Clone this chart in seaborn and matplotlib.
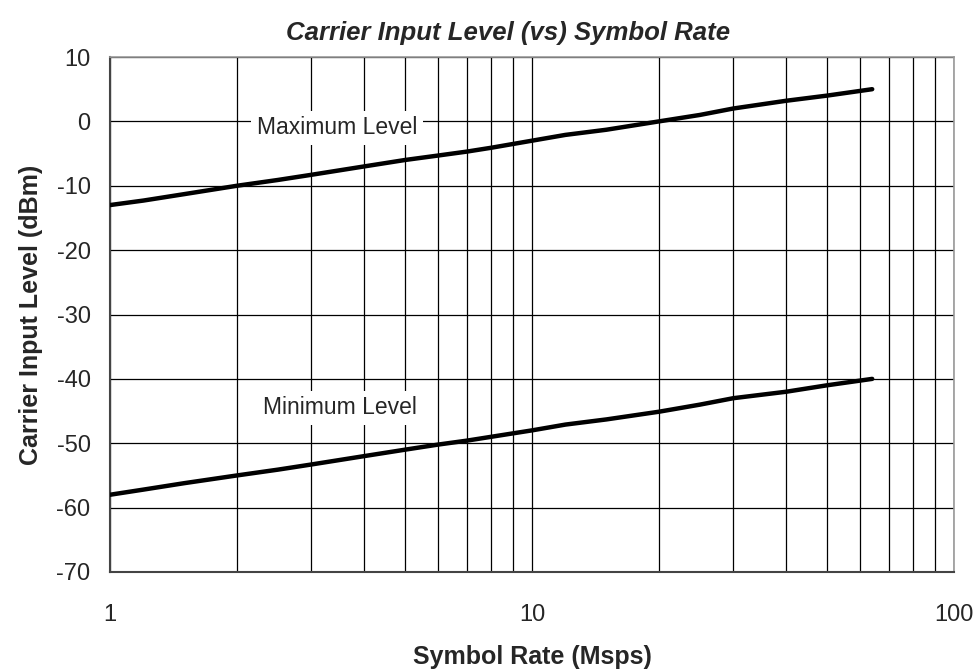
import numpy as np
import pandas as pd
import matplotlib
matplotlib.use('Agg')
import matplotlib.pyplot as plt
import matplotlib.ticker as mticker
import seaborn as sns

# symbol rate (Msps) and levels
rate = [1, 1.2, 1.5, 2, 2.5, 3, 4, 5, 6, 7, 8, 10, 12, 15, 20, 25, 30, 40, 50, 64]
max_level = [-13, -12.3, -11.3, -10, -9.1, -8.3, -7, -6, -5.3, -4.7, -4.1, -3, -2.1, -1.3, 0, 1, 2, 3.2, 4, 5]
min_level = [-58, -57.2, -56.2, -55, -54.1, -53.3, -52, -51, -50.2, -49.6, -49, -48, -47.1, -46.3, -45.1, -44, -43, -42, -41, -40]

df = pd.DataFrame({
    'rate': rate * 2,
    'level': max_level + min_level,
    'series': ['Maximum Level'] * len(rate) + ['Minimum Level'] * len(rate),
})

sns.set_style('white')
plt.rcParams['font.family'] = ['Liberation Sans', 'DejaVu Sans']
plt.rcParams['axes.unicode_minus'] = False

fig = plt.figure(figsize=(9.8, 6.7), dpi=100)
ax = fig.add_axes([110 / 980, 1 - 572 / 670, (954 - 110) / 980, (572 - 57) / 670])

sns.lineplot(data=df, x='rate', y='level', hue='series', palette=['black', 'black'],
             linewidth=3.2, legend=False, ax=ax, zorder=3)

ax.set_xscale('log')
ax.set_xlim(1, 100)
ax.set_ylim(-70, 10)
ax.set_yticks(np.arange(-70, 11, 10))
ax.xaxis.set_major_locator(mticker.FixedLocator([1, 10, 100]))
ax.xaxis.set_major_formatter(mticker.FixedFormatter(['1', '10', '100']))
ax.xaxis.set_minor_locator(mticker.LogLocator(base=10, subs=np.arange(2, 10)))
ax.xaxis.set_minor_formatter(mticker.NullFormatter())

ax.grid(True, which='both', axis='x', color='black', linewidth=0.9)
ax.grid(True, which='major', axis='y', color='black', linewidth=0.9)
ax.tick_params(axis='both', which='major', direction='out', length=5, width=1.2,
               color='#444444', labelsize=17)
ax.tick_params(axis='y', pad=9)
ax.tick_params(axis='x', which='minor', length=0)
ax.tick_params(axis='x', pad=18)

for side in ['top', 'right']:
    ax.spines[side].set_color('#999999')
    ax.spines[side].set_linewidth(1.2)
for side in ['left', 'bottom']:
    ax.spines[side].set_color('#444444')
    ax.spines[side].set_linewidth(1.5)

ax.set_xlabel('Symbol Rate (Msps)', fontsize=18, fontweight='bold', labelpad=14)
ax.set_ylabel('Carrier Input Level (dBm)', fontsize=18, fontweight='bold', labelpad=10)
ax.set_title('Carrier Input Level (vs) Symbol Rate', fontsize=18.5, fontweight='bold',
             style='italic', pad=12, x=(508 - 110) / (954 - 110))

ax.text(3.45, -1.0, 'Maximum Level', fontsize=16.5, ha='center', va='center', zorder=4,
        bbox=dict(facecolor='white', edgecolor='none', pad=4))
ax.text(3.5, -44.5, 'Minimum Level', fontsize=16.5, ha='center', va='center', zorder=4,
        bbox=dict(facecolor='white', edgecolor='none', pad=4))

fig.savefig('out.png', dpi=100)
